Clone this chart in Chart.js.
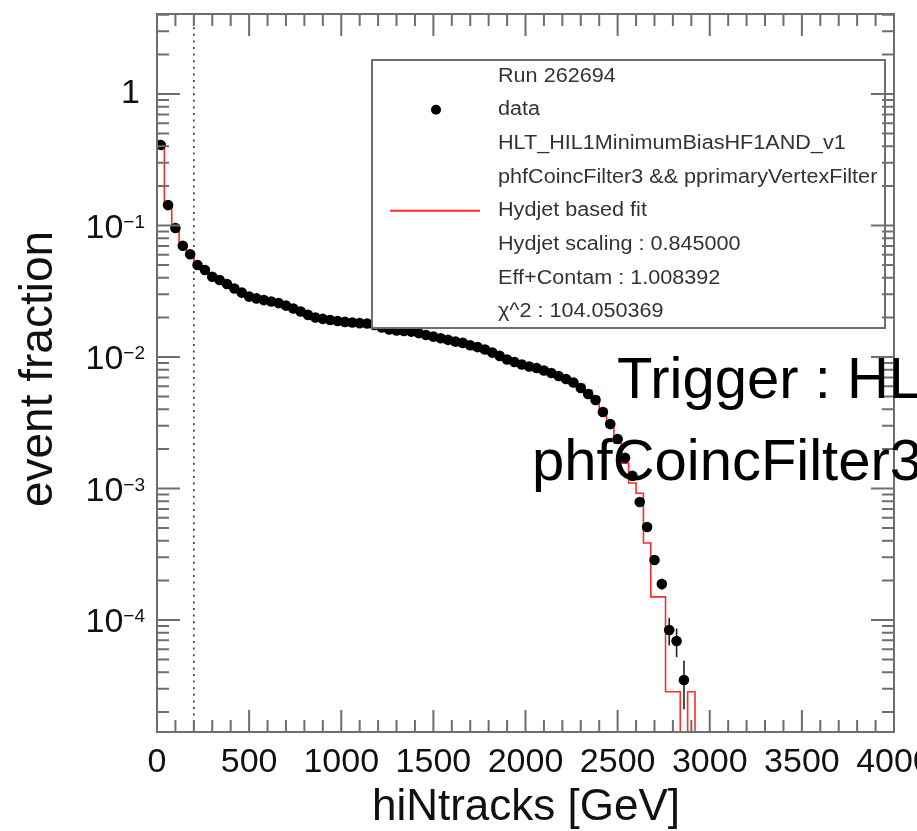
<!DOCTYPE html>
<html>
<head>
<meta charset="utf-8">
<script src="https://cdn.jsdelivr.net/npm/chart.js@4.4.0/dist/chart.umd.min.js"></script>
<style>
  html, body { margin: 0; padding: 0; background: #fff; }
  #wrap { width: 917px; height: 831px; }
</style>
</head>
<body>
<div id="wrap"><canvas id="c" width="917" height="831"></canvas></div>
<script>
// -- Data --
const binCenters = [
  20, 60, 100, 140, 180, 220, 260, 300, 340, 380, 420, 460, 500, 540, 580, 620, 660, 700,
  740, 780, 820, 860, 900, 940, 980, 1020, 1060, 1100, 1140, 1180, 1220, 1260, 1300, 1340,
  1380, 1420, 1460, 1500, 1540, 1580, 1620, 1660, 1700, 1740, 1780, 1820, 1860, 1900, 1940,
  1980, 2020, 2060, 2100, 2140, 2180, 2220, 2260, 2300, 2340, 2380, 2420, 2460, 2500, 2540,
  2580, 2620, 2660, 2700, 2740, 2780, 2820, 2860
]
const eventFraction = [
  0.41, 0.143, 0.0957, 0.0702, 0.0604, 0.0501, 0.0459, 0.0408, 0.0385, 0.0359, 0.0332, 0.0309,
  0.0288, 0.0279, 0.0271, 0.0264, 0.0257, 0.0246, 0.0234, 0.0222, 0.0209, 0.0200, 0.0195, 0.0191,
  0.0188, 0.0185, 0.0183, 0.0181, 0.0180, 0.0175, 0.0168, 0.0162, 0.0159, 0.0158, 0.0156, 0.0152,
  0.0147, 0.0143, 0.0139, 0.0135, 0.0131, 0.0128, 0.0123, 0.0119, 0.0114, 0.0108, 0.0102, 0.00957,
  0.00916, 0.00877, 0.00847, 0.00825, 0.00789, 0.00755, 0.00717, 0.00680, 0.00640, 0.00581,
  0.00523, 0.00471, 0.00382, 0.00309, 0.00238, 0.00171, 0.00125, 0.00079, 0.00051, 0.000286,
  0.000188, 0.0000839, 0.0000692, 0.000035
]
// only the tail bins have visible error bars
const eventFractionErr = [
  0, 0, 0, 0, 0, 0, 0, 0, 0, 0, 0, 0, 0, 0, 0, 0, 0, 0, 0, 0, 0, 0, 0, 0, 0, 0, 0, 0, 0, 0, 0, 0,
  0, 0, 0, 0, 0, 0, 0, 0, 0, 0, 0, 0, 0, 0, 0, 0, 0, 0, 0, 0, 0, 0, 0, 0, 0, 0, 0, 0, 0, 0, 0, 0,
  0, 0, 0.00003, 0.000022, 0.000018, 0.00002, 0.000017, 0.000014
]
const fitEdges = [
  0, 40, 80, 120, 160, 200, 240, 280, 320, 360, 400, 440, 480, 520, 560, 600, 640, 680, 720, 760,
  800, 840, 880, 920, 960, 1000, 1040, 1080, 1120, 1160, 1200, 1240, 1280, 1320, 1360, 1400, 1440,
  1480, 1520, 1560, 1600, 1640, 1680, 1720, 1760, 1800, 1840, 1880, 1920, 1960, 2000, 2040, 2080,
  2120, 2160, 2200, 2240, 2280, 2320, 2360, 2400, 2440, 2480, 2520, 2560, 2600, 2640, 2680, 2720,
  2760, 2800, 2840, 2880, 2920, 4000
]
// empty bins sit far below the axis minimum so the step drops out of the frame
const fitValues = [
  0.41, 0.143, 0.0957, 0.0702, 0.0604, 0.0501, 0.0459, 0.0408, 0.0385, 0.0359, 0.0332, 0.0309,
  0.0288, 0.0279, 0.0271, 0.0264, 0.0257, 0.0246, 0.0234, 0.0222, 0.0209, 0.0200, 0.0195, 0.0191,
  0.0188, 0.0185, 0.0183, 0.0181, 0.0180, 0.0175, 0.0168, 0.0162, 0.0159, 0.0158, 0.0156, 0.0152,
  0.0147, 0.0141, 0.0132, 0.0128, 0.0124, 0.0121, 0.0117, 0.0113, 0.0109, 0.0104, 0.0099, 0.0094,
  0.0091, 0.0087, 0.0084, 0.0082, 0.0079, 0.0075, 0.0072, 0.0068, 0.0066, 0.0062, 0.0056, 0.0050,
  0.0040, 0.00294, 0.00222, 0.00156, 0.00110, 0.00092, 0.000385, 0.00015, 0.00015, 0.0000285,
  0.0000285, 1e-7, 0.0000285, 1e-7, 1e-7
]
const xTicks = [0, 500, 1000, 1500, 2000, 2500, 3000, 3500, 4000]
const yDecades = [1, 0.1, 0.01, 0.001, 0.0001]
const yDecadeExp = ["0", "\u22121", "\u22122", "\u22123", "\u22124"]
const cutValue = 200
const legendLines = [
  "Run 262694",
  "data",
  "HLT_HIL1MinimumBiasHF1AND_v1",
  "phfCoincFilter3 && pprimaryVertexFilter",
  "Hydjet based fit",
  "Hydjet scaling : 0.845000",
  "Eff+Contam : 1.008392",
  "\u03c7^2 : 104.050369"
]
const triggerLines = [
  "Trigger : HLT_HIL1MinimumBiasHF1AND_v1",
  "phfCoincFilter3 && pprimaryVertexFilter"
]
const xTitle = "hiNtracks [GeV]"
const yTitle = "event fraction"

const FONT = "'Liberation Sans', Arial, Helvetica, sans-serif"
const frameColor = "#6e6e6e"

// -- Plugin: ROOT style frame, ticks, legend and texts --
let rootStyle = {
  id: 'rootStyle',
  beforeDatasetsDraw(chart) {
    let ctx = chart.ctx
    let xs = chart.scales.x, ys = chart.scales.y
    let area = chart.chartArea
    // dotted cut line
    ctx.save()
    ctx.strokeStyle = "#333"
    ctx.lineWidth = 1.6
    ctx.setLineDash([2, 4.6])
    let cx = xs.getPixelForValue(cutValue)
    ctx.beginPath()
    ctx.moveTo(cx, area.top)
    ctx.lineTo(cx, area.bottom)
    ctx.stroke()
    ctx.restore()
    // error bars
    ctx.save()
    ctx.strokeStyle = "#222"
    ctx.lineWidth = 1.6
    for (let i = 0; i < binCenters.length; i++) {
      let e = eventFractionErr[i]
      if (!e) continue
      let px = xs.getPixelForValue(binCenters[i])
      ctx.beginPath()
      ctx.moveTo(px, ys.getPixelForValue(eventFraction[i] + e))
      ctx.lineTo(px, ys.getPixelForValue(Math.max(eventFraction[i] - e, 1e-9)))
      ctx.stroke()
    }
    ctx.restore()
  },
  afterDraw(chart) {
    let ctx = chart.ctx
    let xs = chart.scales.x, ys = chart.scales.y
    let a = chart.chartArea

    // legend box
    ctx.save()
    ctx.fillStyle = "#fff"
    ctx.fillRect(372, 60, 513, 268)
    ctx.strokeStyle = frameColor
    ctx.lineWidth = 2
    ctx.strokeRect(372, 60, 513, 268)
    ctx.fillStyle = "#333"
    ctx.font = "20px " + FONT
    ctx.textBaseline = "middle"
    legendLines.forEach((t, i) => {
      ctx.save()
      ctx.translate(498, 76 + i * 33.7)
      ctx.scale(1.08, 1)
      ctx.fillText(t, 0, 0)
      ctx.restore()
    })
    // marker and line samples
    ctx.fillStyle = "#000"
    ctx.beginPath()
    ctx.arc(436, 76 + 33.7, 5, 0, Math.PI * 2)
    ctx.fill()
    ctx.strokeStyle = "#ff2a2a"
    ctx.lineWidth = 2
    ctx.beginPath()
    ctx.moveTo(390, 76 + 4 * 33.7)
    ctx.lineTo(480, 76 + 4 * 33.7)
    ctx.stroke()
    ctx.restore()

    // frame
    ctx.save()
    ctx.strokeStyle = frameColor
    ctx.lineWidth = 2
    ctx.strokeRect(a.left, a.top, a.right - a.left, a.bottom - a.top)
    ctx.beginPath()
    for (let v = 0; v <= 4000; v += 100) {
      let px = xs.getPixelForValue(v)
      let len = v % 500 === 0 ? 22 : 12
      ctx.moveTo(px, a.bottom); ctx.lineTo(px, a.bottom - len)
      ctx.moveTo(px, a.top); ctx.lineTo(px, a.top + len)
    }
    for (let e = -5; e <= 0; e++) {
      for (let k = 1; k <= 9; k++) {
        let v = k * Math.pow(10, e)
        if (v < ys.min || v > ys.max) continue
        let py = ys.getPixelForValue(v)
        let len = k === 1 ? 23 : 12
        ctx.moveTo(a.left, py); ctx.lineTo(a.left + len, py)
        ctx.moveTo(a.right, py); ctx.lineTo(a.right - len, py)
      }
    }
    ctx.stroke()
    ctx.restore()

    // tick labels
    ctx.save()
    ctx.fillStyle = "#111"
    ctx.font = "34px " + FONT
    ctx.textAlign = "center"
    ctx.textBaseline = "alphabetic"
    for (let v of xTicks) {
      ctx.fillText(String(v), xs.getPixelForValue(v), 772)
    }
    yDecades.forEach((v, i) => {
      let py = ys.getPixelForValue(v)
      ctx.textAlign = "right"
      ctx.textBaseline = "middle"
      if (i === 0) {
        ctx.font = "34px " + FONT
        ctx.fillText("1", 140, py)
        return
      }
      ctx.font = "19px " + FONT
      let sw = ctx.measureText(yDecadeExp[i]).width
      ctx.fillText(yDecadeExp[i], 145, py - 3)
      ctx.font = "34px " + FONT
      ctx.fillText("10", 145 - sw, py + 3)
    })
    ctx.restore()

    // axis titles
    ctx.save()
    ctx.fillStyle = "#111"
    ctx.font = "44px " + FONT
    ctx.textAlign = "center"
    ctx.fillText(xTitle, 526, 820)
    ctx.translate(52, 369)
    ctx.rotate(-Math.PI / 2)
    ctx.font = "46px " + FONT
    ctx.fillText(yTitle, 0, 0)
    ctx.restore()

    // trigger text, runs off the right edge
    ctx.save()
    ctx.fillStyle = "#000"
    ctx.font = "58px " + FONT
    ctx.textAlign = "left"
    ctx.fillText(triggerLines[0], 617, 398)
    ctx.fillText(triggerLines[1], 532, 480)
    ctx.restore()
  }
}

// -- Chart --
let points = binCenters.map((c, i) => ({ x: c, y: eventFraction[i] }))
let fitPoints = fitEdges.map((e, i) => ({ x: e, y: fitValues[i] }))

let chart = new Chart(document.getElementById("c"), {
  type: 'scatter',
  data: {
    datasets: [{
      label: 'data',
      data: points,
      showLine: false,
      pointRadius: 5.3,
      pointBackgroundColor: '#000',
      pointBorderWidth: 0,
      order: 0
    },
    {
      type: 'line',
      label: 'Hydjet based fit',
      data: fitPoints,
      // horizontal at each bin's value up to the next edge, then vertical
      stepped: 'before',
      borderColor: '#ff2a2a',
      borderWidth: 1.6,
      pointRadius: 0,
      fill: false,
      order: 1
    }]
  },
  options: {
    responsive: false,
    animation: false,
    events: [],
    layout: { padding: { left: 157, right: 23, top: 14, bottom: 99 } },
    plugins: { legend: { display: false }, tooltip: { enabled: false } },
    scales: {
      x: { type: 'linear', min: 0, max: 4000, display: false },
      y: { type: 'logarithmic', min: 1.407e-5, max: 4.06, display: false }
    }
  },
  plugins: [rootStyle]
})
</script>
</body>
</html>
